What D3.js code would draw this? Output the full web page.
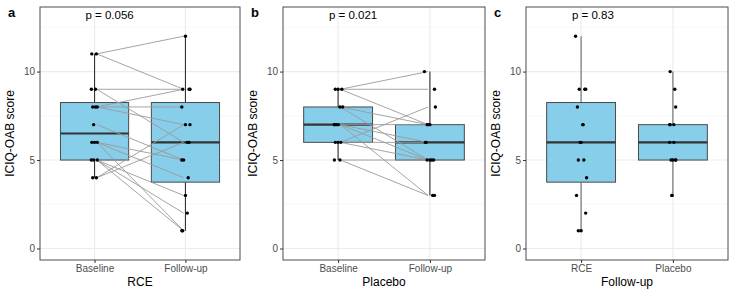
<!DOCTYPE html>
<html>
<head>
<meta charset="utf-8">
<script src="https://cdn.jsdelivr.net/npm/d3@7"></script>
<style>
  body { margin: 0; background: #fff; }
  text { font-family: "Liberation Sans", Arial, sans-serif; }
</style>
</head>
<body>
<svg id="chart" width="736" height="294"></svg>
<script>
// paired scores, one entry per patient (baseline -> follow-up)
const rceBaseline  = [11, 11, 9, 9, 8, 8, 8, 7, 6, 6, 6, 5, 5, 5, 4, 4];
const rceFollowup  = [12, 9, 9, 6, 9, 8, 7, 5, 5, 4, 1, 3, 2, 1, 7, 6];
const plcBaseline  = [9, 9, 9, 8, 8, 7, 7, 7, 7, 6, 6, 6, 5, 5];
const plcFollowup  = [10, 9, 7, 7, 5, 6, 5, 3, 7, 8, 5, 6, 3, 5];

// box summaries: [lower whisker, q1, median, q3, upper whisker]
const boxRceBase   = [4, 5, 6.5, 8.25, 11];
const boxRceFollow = [1, 3.75, 6, 8.25, 12];
const boxPlcBase   = [5, 6, 7, 8, 9];
const boxPlcFollow = [3, 5, 6, 7, 10];

const pValues = ['p = 0.056', 'p = 0.021', 'p = 0.83'];
const yTicks = [0, 5, 10];
const yMinor = [2.5, 7.5, 12.5];

// small horizontal jitter (fraction of a category step)
const jit1 = [-0.03, 0.02, -0.035, 0.01, -0.02, 0.01, 0.03, -0.01, -0.03, 0.03, 0.0, -0.035, -0.01, 0.03, -0.02, 0.02];
const jit2 = [0.0, 0.04, -0.03, 0.02, 0.05, -0.04, 0.0, -0.04, -0.02, 0.03, -0.03, 0.0, 0.02, -0.04, 0.05, 0.04];
const jit3 = [-0.06, 0.05, -0.02, 0.0, 0.04, -0.04, 0.02, 0.03, -0.03, 0.06, 0.0, -0.05, 0.05, -0.03, 0.02, -0.01];

const svg = d3.select('#chart');
const plotTop = 7, plotBottom = 260;

const y = d3.scaleLinear().domain([-0.65, 13.65]).range([plotBottom, plotTop]);

const panels = [
  {tag: 'a', left: 40, right: 240, cats: ['Baseline', 'Follow-up'], title: 'RCE',
   groups: [rceBaseline, rceFollowup], boxes: [boxRceBase, boxRceFollow], paired: true,
   jit: [jit1, jit2], whisker: '#333'},
  {tag: 'b', left: 283, right: 485, cats: ['Baseline', 'Follow-up'], title: 'Placebo',
   groups: [plcBaseline, plcFollowup], boxes: [boxPlcBase, boxPlcFollow], paired: true,
   jit: [jit2, jit3], whisker: '#333'},
  {tag: 'c', left: 526, right: 728, cats: ['RCE', 'Placebo'], title: 'Follow-up',
   groups: [rceFollowup, plcFollowup], boxes: [boxRceFollow, boxPlcFollow], paired: false,
   jit: [jit3, jit1], whisker: '#6b6b6b'}
];

panels.forEach((p, pi) => {
  const x = d3.scalePoint().domain(p.cats).range([p.left, p.right]).padding(0.6);
  const step = x.step();
  const g = svg.append('g');

  // grid
  g.selectAll('.minor').data(yMinor).join('line')
    .attr('x1', p.left).attr('x2', p.right)
    .attr('y1', d => y(d)).attr('y2', d => y(d))
    .attr('stroke', '#f3f3f3').attr('stroke-width', 0.6);
  g.selectAll('.major').data(yTicks).join('line')
    .attr('x1', p.left).attr('x2', p.right)
    .attr('y1', d => y(d)).attr('y2', d => y(d))
    .attr('stroke', '#ebebeb').attr('stroke-width', 1.1);
  g.selectAll('.vgrid').data(p.cats).join('line')
    .attr('x1', d => x(d)).attr('x2', d => x(d))
    .attr('y1', plotTop).attr('y2', plotBottom)
    .attr('stroke', '#ebebeb').attr('stroke-width', 1.1);

  // boxes
  const bw = step * 0.75;
  p.boxes.forEach((b, i) => {
    const cx = x(p.cats[i]);
    g.append('line').attr('x1', cx).attr('x2', cx)
      .attr('y1', y(b[0])).attr('y2', y(b[1]))
      .attr('stroke', p.whisker).attr('stroke-width', 1.1);
    g.append('line').attr('x1', cx).attr('x2', cx)
      .attr('y1', y(b[3])).attr('y2', y(b[4]))
      .attr('stroke', p.whisker).attr('stroke-width', 1.1);
    g.append('rect')
      .attr('x', cx - bw / 2).attr('width', bw)
      .attr('y', y(b[3])).attr('height', y(b[1]) - y(b[3]))
      .attr('fill', '#87ceeb').attr('stroke', '#4a4a4a').attr('stroke-width', 1);
    g.append('line').attr('x1', cx - bw / 2).attr('x2', cx + bw / 2)
      .attr('y1', y(b[2])).attr('y2', y(b[2]))
      .attr('stroke', '#333').attr('stroke-width', 2.2);
  });

  // paired lines
  if (p.paired) {
    const a = p.groups[0], f = p.groups[1];
    g.selectAll('.pair').data(a).join('line')
      .attr('x1', (d, i) => x(p.cats[0]) + step * 0.025)
      .attr('x2', (d, i) => x(p.cats[1]) - step * 0.02)
      .attr('y1', d => y(d))
      .attr('y2', (d, i) => y(f[i]))
      .attr('stroke', '#9a9a9a').attr('stroke-width', 0.9);
  }

  // points
  p.groups.forEach((vals, gi) => {
    g.selectAll('.pt' + gi).data(vals).join('circle')
      .attr('cx', (d, i) => x(p.cats[gi]) + p.jit[gi][i] * step)
      .attr('cy', d => y(d))
      .attr('r', 1.7)
      .attr('fill', '#000');
  });

  // border
  g.append('rect').attr('x', p.left).attr('y', plotTop)
    .attr('width', p.right - p.left).attr('height', plotBottom - plotTop)
    .attr('fill', 'none').attr('stroke', '#4d4d4d').attr('stroke-width', 1);

  // axes
  const ya = g.append('g').attr('transform', `translate(${p.left},0)`)
    .call(d3.axisLeft(y).tickValues(yTicks).tickSize(3).tickPadding(2));
  ya.select('.domain').remove();
  ya.selectAll('line').attr('stroke', '#333');
  ya.selectAll('text').attr('fill', '#4d4d4d').style('font-size', '10px');

  const xa = g.append('g').attr('transform', `translate(0,${plotBottom})`)
    .call(d3.axisBottom(x).tickSize(3).tickPadding(2));
  xa.select('.domain').remove();
  xa.selectAll('line').attr('stroke', '#333');
  xa.selectAll('text').attr('fill', '#4d4d4d').style('font-size', '10px');

  // titles
  g.append('text')
    .attr('x', (p.left + p.right) / 2).attr('y', 286)
    .attr('text-anchor', 'middle').style('font-size', '12px').attr('fill', '#000')
    .text(p.title);
  g.append('text')
    .attr('transform', `translate(${p.left - 26},${(plotTop + plotBottom) / 2}) rotate(-90)`)
    .attr('text-anchor', 'middle').style('font-size', '12px').attr('fill', '#000')
    .text('ICIQ-OAB score');
  g.append('text')
    .attr('x', p.left - 32).attr('y', 17)
    .style('font-size', '13px').style('font-weight', 'bold')
    .text(p.tag);
  g.append('text')
    .attr('x', x(p.cats[0]) - step * 0.1).attr('y', 19)
    .style('font-size', '11.5px').attr('fill', '#000')
    .text(pValues[pi]);
});
</script>
</body>
</html>
